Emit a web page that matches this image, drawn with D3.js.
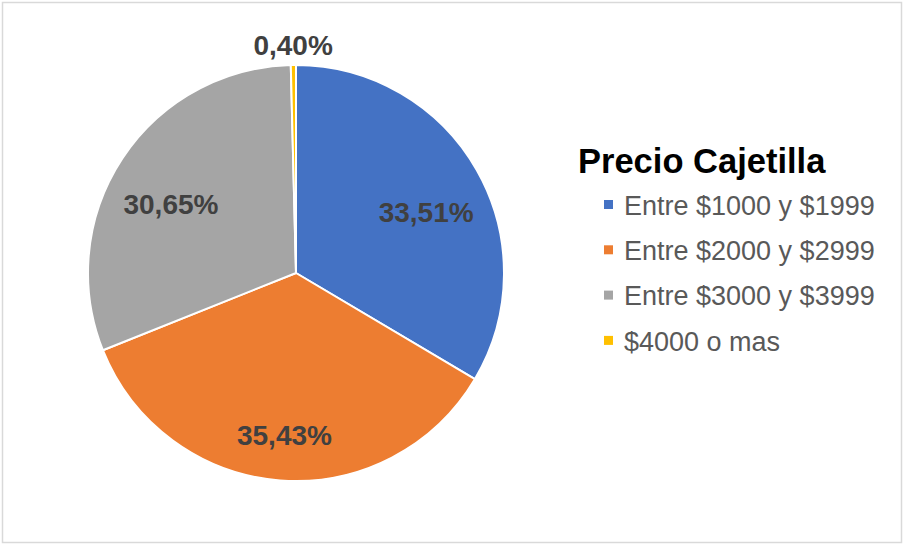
<!DOCTYPE html>
<html lang="es">
<head>
<meta charset="UTF-8"/>
<title>Precio Cajetilla</title>
<script src="https://d3js.org/d3.v7.min.js"></script>
<style>
  body { margin: 0; background: #fff; }
  svg { display: block; font-family: Arial, "Liberation Sans", sans-serif; }
</style>
</head>
<body>
<script>
    // chart data
    var categories = ["Entre $1000 y $1999", "Entre $2000 y $2999", "Entre $3000 y $3999", "$4000 o mas"];
    var values = [33.51, 35.43, 30.65, 0.40];
    var labels = ["33,51%", "35,43%", "30,65%", "0,40%"];
    var colors = ["#4472c4", "#ed7d31", "#a5a5a5", "#ffc000"];

    var w = 903, h = 544;
    var cx = 296, cy = 273, r = 208;

    var svg = d3.select("body")
                .append("svg")
                .attr("width", w)
                .attr("height", h);

    // outer frame
    svg.append("rect")
       .attr("x", 2.5).attr("y", 2.5)
       .attr("width", w - 4).attr("height", h - 4)
       .attr("fill", "#fff")
       .attr("stroke", "#d9d9d9")
       .attr("stroke-width", 1.5);

    var pie = d3.pie().sort(null).value(function(d) { return d; });
    var arcs = pie(values);

    var arc = d3.arc().innerRadius(0).outerRadius(r);

    var g = svg.append("g")
               .attr("transform", "translate(" + cx + "," + cy + ")");

    g.selectAll("path")
     .data(arcs)
     .enter()
     .append("path")
     .attr("d", arc)
     .attr("fill", function(d, i) { return colors[i]; })
     .attr("stroke", "#fff")
     .attr("stroke-width", 2)
     .attr("stroke-linejoin", "round");

    // labels: inside for big slices, outside for the tiny one
    var inner = d3.arc().innerRadius(r * 0.72).outerRadius(r * 0.72);
    var outer = d3.arc().innerRadius(r + 20).outerRadius(r + 20);

    g.selectAll("text.lbl")
     .data(arcs)
     .enter()
     .append("text")
     .attr("class", "lbl")
     .attr("transform", function(d) {
         var small = (d.endAngle - d.startAngle) < 0.2;
         var p = small ? outer.centroid(d) : inner.centroid(d);
         return "translate(" + p[0] + "," + (p[1] + (small ? 0 : 13)) + ")";
     })
     .attr("text-anchor", "middle")
     .attr("dy", "0.36em")
     .attr("font-size", "28px")
     .attr("font-weight", "bold")
     .attr("fill", "#404040")
     .text(function(d, i) { return labels[i]; });

    // legend
    var lg = svg.append("g").attr("transform", "translate(578,0)");

    lg.append("text")
      .attr("x", 0).attr("y", 173)
      .attr("font-size", "34.5px")
      .attr("font-weight", "bold")
      .attr("fill", "#000")
      .text("Precio Cajetilla");

    var items = lg.selectAll("g.item")
      .data(categories)
      .enter()
      .append("g")
      .attr("class", "item")
      .attr("transform", function(d, i) { return "translate(0," + (205 + i * 45.3) + ")"; });

    items.append("rect")
      .attr("x", 26).attr("y", -5)
      .attr("width", 9).attr("height", 9)
      .attr("fill", function(d, i) { return colors[i]; });

    items.append("text")
      .attr("x", 46).attr("y", 0)
      .attr("dy", "0.36em")
      .attr("font-size", "27px")
      .attr("fill", "#595959")
      .text(function(d) { return d; });
</script>
</body>
</html>
